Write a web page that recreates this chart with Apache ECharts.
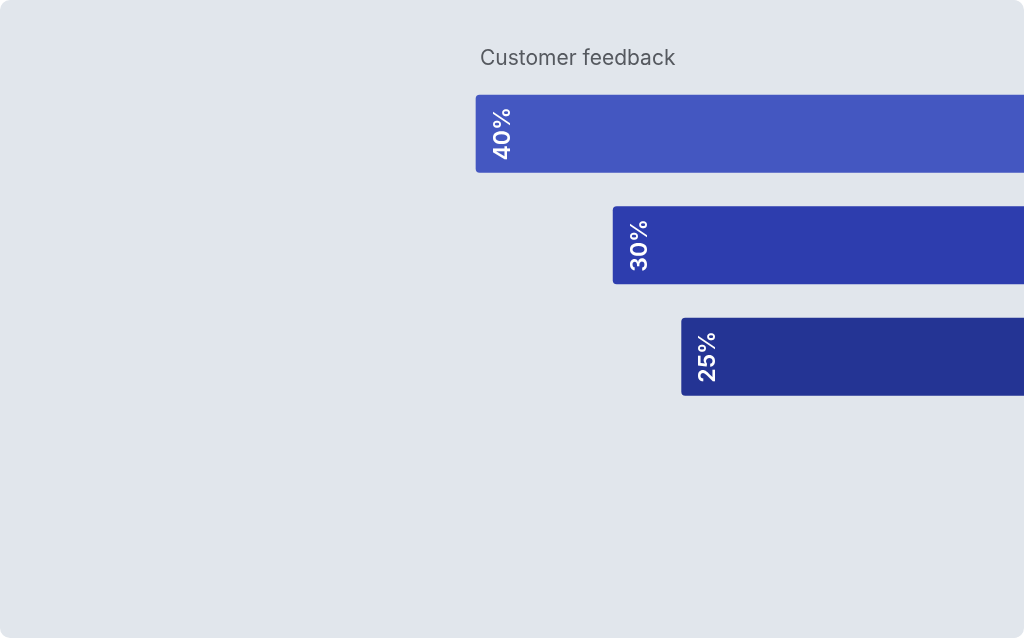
<!DOCTYPE html>
<html>
<head>
<meta charset="utf-8">
<script src="https://cdn.jsdelivr.net/npm/echarts@6/dist/echarts.min.js"></script>
<style>
  html, body { margin: 0; padding: 0; background: #ffffff; }
  #card { position: absolute; left: 0; top: 0; width: 1024px; height: 638px; background: #E1E6EC; border-radius: 10px; overflow: hidden; }
  #chart { width: 1024px; height: 638px; }
</style>
</head>
<body>
<div id="card"><div id="chart"></div></div>
<script>
const title = 'Customer feedback';
const categories = ['A', 'B', 'C'];
const values = [40, 30, 25];
const barColors = ['#4457C1', '#2D3DAE', '#243494'];

const chart = echarts.init(document.getElementById('chart'), null, { renderer: 'canvas' });
chart.setOption({
  backgroundColor: 'transparent',
  animation: false,
  title: {
    text: title,
    left: 480,
    top: 48,
    padding: 0,
    textStyle: { fontFamily: 'Inter', fontSize: 21, fontWeight: 'normal', color: '#55595F' }
  },
  grid: { left: 0, right: 0, top: 78, bottom: 225.5, containLabel: false },
  xAxis: {
    type: 'value', min: 0, max: 74.7, inverse: true, show: false,
    splitLine: { show: false }
  },
  yAxis: {
    type: 'category', data: categories, inverse: true, show: false
  },
  series: [{
    type: 'bar',
    barWidth: 78,
    data: values.map((v, i) => ({ value: v, itemStyle: { color: barColors[i] } })),
    itemStyle: { borderRadius: [4, 0, 0, 4] },
    label: {
      show: true,
      position: [27, '50%'],
      rotate: 90,
      align: 'center',
      verticalAlign: 'middle',
      formatter: p => p.value + '%',
      color: '#ffffff',
      fontFamily: 'Inter',
      fontSize: 23,
      fontWeight: 600
    }
  }]
});
</script>
</body>
</html>
